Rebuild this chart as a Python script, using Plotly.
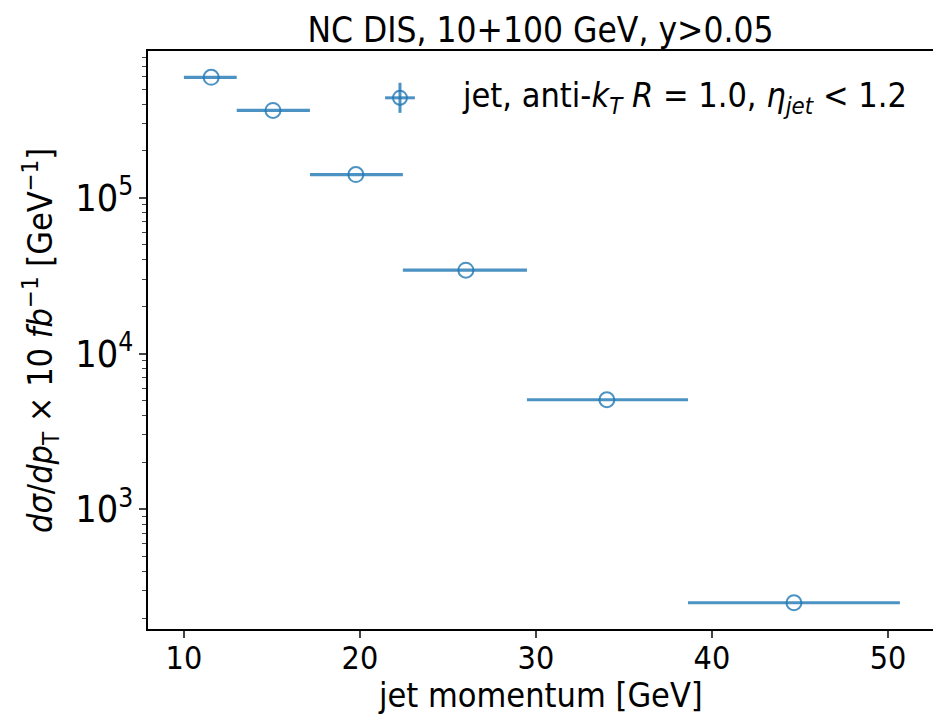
import plotly.graph_objects as go

# data
pt_center = [11.55, 15.06, 19.77, 26.02, 34.03, 44.66]
bin_low = [10.0, 13.0, 17.16, 22.44, 29.49, 38.64]
bin_high = [13.0, 17.16, 22.44, 29.49, 38.64, 50.68]
xsec = [5.94e5, 3.64e5, 1.41e5, 3.43e4, 5.05e3, 251]

err_plus = [h - c for h, c in zip(bin_high, pt_center)]
err_minus = [c - l for c, l in zip(pt_center, bin_low)]

col = "rgba(31,119,180,0.8)"
font = "DejaVu Sans Condensed, DejaVu Sans"

fig = go.Figure()
fig.add_trace(go.Scatter(
    x=pt_center, y=xsec, mode="markers",
    marker=dict(symbol="circle-open", size=15, color=col, line=dict(width=2, color=col)),
    error_x=dict(type="data", symmetric=False, array=err_plus, arrayminus=err_minus,
                 color=col, thickness=3.2, width=0),
    showlegend=False,
))

# legend drawn by hand
lx, ly = 0.321, 0.919
fig.add_shape(type="line", xref="paper", yref="paper", x0=lx - 0.019, x1=lx + 0.019, y0=ly, y1=ly,
              line=dict(color=col, width=3))
fig.add_shape(type="line", xref="paper", yref="paper", x0=lx, x1=lx, y0=ly - 0.026, y1=ly + 0.026,
              line=dict(color=col, width=3))
fig.add_shape(type="circle", xref="paper", yref="paper", x0=lx - 0.0089, x1=lx + 0.0089,
              y0=ly - 0.0121, y1=ly + 0.0121, line=dict(color=col, width=2))
fig.add_annotation(xref="paper", yref="paper", x=0.397, y=ly, xanchor="left", yanchor="middle",
                   text="jet, anti-<i>k</i><sub><i>T</i></sub> <i>R</i> = 1.0, <i>η<sub>jet</sub></i> &lt; 1.2",
                   showarrow=False, font=dict(family=font, size=34, color="black"))

# axis titles
fig.add_annotation(xref="paper", yref="paper", x=0.5, y=-0.114, xanchor="center", yanchor="middle",
                   text="jet momentum [GeV]", showarrow=False,
                   font=dict(family=font, size=34, color="black"))
fig.add_annotation(xref="paper", yref="paper", x=-0.1376, y=0.5, xanchor="center", yanchor="middle",
                   textangle=-90, showarrow=False,
                   text="<i>dσ</i>/<i>dp</i><sub>T</sub> × 10 <i>fb</i><sup>−1</sup> [GeV<sup>−1</sup>]",
                   font=dict(family=font, size=34, color="black"))

fig.update_layout(
    width=933, height=717,
    margin=dict(l=148, r=0, t=51, b=88),
    paper_bgcolor="white", plot_bgcolor="white",
    font=dict(family=font, color="black"),
    title=dict(text="NC DIS, 10+100 GeV, y>0.05", x=0.5, xref="paper", y=0.958, yanchor="middle",
               font=dict(family=font, size=35, color="black")),
)
fig.update_xaxes(
    range=[7.96, 52.56], tickvals=[10, 20, 30, 40, 50], ticks="outside", ticklen=7, tickwidth=1.5,
    tickfont=dict(size=32), ticklabelstandoff=-7, showline=True, linecolor="black", linewidth=1.5,
    mirror=True, showgrid=False, zeroline=False,
)
fig.update_yaxes(
    type="log", range=[2.231, 5.943], dtick=1, exponentformat="power", ticks="outside",
    ticklen=7, tickwidth=1.5, tickfont=dict(size=30), showline=True, linecolor="black",
    linewidth=1.5, mirror=False, showgrid=False, zeroline=False,
    minor=dict(ticks="outside", ticklen=4, tickwidth=1, dtick="D1", showgrid=False),
)

fig.write_html("out.html")
